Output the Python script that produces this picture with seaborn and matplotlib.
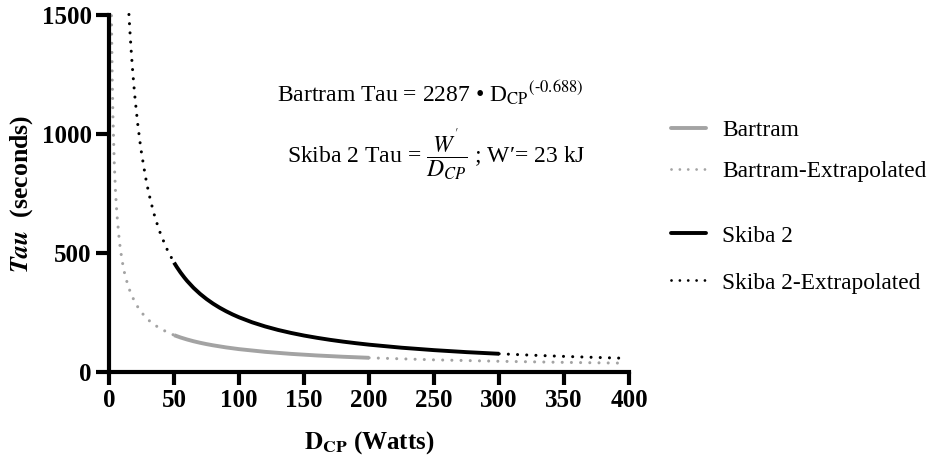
import matplotlib
matplotlib.use("Agg")
import matplotlib.pyplot as plt
import seaborn as sns
import pandas as pd
from matplotlib.lines import Line2D

# ---- data ----
bartram_ext_lo_x = [1.85, 2, 2.5, 3, 4, 5, 6, 8, 10, 12, 15, 20, 25, 30, 35, 40, 45, 50]
bartram_ext_lo_y = [1498, 1420, 1218, 1074, 881, 756, 667, 547, 469, 414, 355, 291, 250, 220, 198, 181, 167, 155]
bartram_x = [50, 55, 60, 65, 70, 75, 80, 90, 100, 120, 140, 160, 180, 200]
bartram_y = [155, 145.2, 136.8, 129.4, 123.0, 117.3, 112.3, 103.5, 96.2, 84.9, 76.3, 69.6, 64.2, 59.8]
bartram_ext_hi_x = [200, 250, 300, 350, 395]
bartram_ext_hi_y = [59.8, 51.2, 45.2, 40.6, 37.4]

skiba_ext_lo_x = [15.3, 16, 17, 18, 19, 20, 22, 24, 25, 28, 30, 32, 35, 38, 40, 45, 50]
skiba_ext_lo_y = [1503, 1437.5, 1352.9, 1277.8, 1210.5, 1150, 1045.5, 958.3, 920, 821.4, 766.7,
                  718.8, 657.1, 605.3, 575, 511.1, 460]
skiba_x = [50, 52, 55, 58, 60, 65, 70, 75, 80, 85, 90, 95, 100, 110, 120, 130, 140, 150,
           160, 170, 180, 190, 200, 225, 250, 275, 300]
skiba_y = [460, 442.3, 418.2, 396.6, 383.3, 353.8, 328.6, 306.7, 287.5, 270.6, 255.6, 242.1,
           230, 209.1, 191.7, 176.9, 164.3, 153.3, 143.8, 135.3, 127.8, 121.1, 115, 102.2,
           92, 83.6, 76.7]
skiba_ext_hi_x = [300, 325, 350, 375, 395]
skiba_ext_hi_y = [76.7, 70.8, 65.7, 61.3, 58.2]

x_ticks = [0, 50, 100, 150, 200, 250, 300, 350, 400]
y_ticks = [0, 500, 1000, 1500]
legend_labels = ["Bartram", "Bartram-Extrapolated", "Skiba 2", "Skiba 2-Extrapolated"]

# ---- style ----
sns.set_style("ticks", {"axes.edgecolor": "black", "xtick.color": "black",
                        "ytick.color": "black", "text.color": "black",
                        "axes.labelcolor": "black"})
plt.rcParams["font.family"] = ["Liberation Serif", "DejaVu Serif"]
plt.rcParams["mathtext.fontset"] = "stix"

GRAY = "#a3a3a3"
DOT = (0, (0.01, 3.0))

fig = plt.figure(figsize=(9.28, 4.61), dpi=100)
ax = fig.add_axes([0.1175, 0.193, 0.678 - 0.1175, 0.967 - 0.193])

def seg(x, y, color, lw, ls):
    df = pd.DataFrame({"x": x, "y": y})
    sns.lineplot(data=df, x="x", y="y", ax=ax, color=color, linewidth=lw,
                 linestyle=ls, dash_capstyle="round", solid_capstyle="butt",
                 solid_joinstyle="round", sort=False, estimator=None, clip_on=False)

seg(bartram_ext_lo_x, bartram_ext_lo_y, GRAY, 2.2, DOT)
seg(bartram_ext_hi_x, bartram_ext_hi_y, GRAY, 2.2, DOT)
seg(bartram_x, bartram_y, GRAY, 2.8, "-")
seg(skiba_ext_lo_x, skiba_ext_lo_y, "black", 2.2, DOT)
seg(skiba_ext_hi_x, skiba_ext_hi_y, "black", 2.2, DOT)
seg(skiba_x, skiba_y, "black", 2.8, "-")

ax.set_xlim(0, 400)
ax.set_ylim(0, 1500)
ax.set_xticks(x_ticks)
ax.set_yticks(y_ticks)
ax.set_xticklabels([str(t) for t in x_ticks], fontweight="bold", fontsize=18)
ax.set_yticklabels([str(t) for t in y_ticks], fontweight="bold", fontsize=18)
sns.despine(ax=ax)
for s in ["left", "bottom"]:
    ax.spines[s].set_linewidth(3)
    ax.spines[s].set_capstyle("projecting")
ax.tick_params(width=3, length=9.5, pad=3, direction="out", colors="black")

ax.set_xlabel(r"$\mathbf{D}_{\mathbf{CP}}$ (Watts)", fontweight="bold", fontsize=18, labelpad=12)
ax.set_ylabel(r"$\mathbfit{Tau}$  (seconds)", fontweight="bold", fontsize=18.5, labelpad=5)

ax.text(0.617, 0.784, r"Bartram Tau = 2287 • D$_{\mathrm{CP}}$$^{(\text{-}0.688)}$",
        transform=ax.transAxes, fontsize=17, ha="center", va="center")
ax.text(0.630, 0.608, r"Skiba 2 Tau = $\dfrac{W^{'}}{D_{CP}}$ ; W′= 23 kJ",
        transform=ax.transAxes, fontsize=17, ha="center", va="center")

h1 = [Line2D([], [], color=GRAY, lw=2.8),
      Line2D([], [], color=GRAY, lw=2.0, linestyle=DOT, dash_capstyle="round")]
h2 = [Line2D([], [], color="black", lw=2.8),
      Line2D([], [], color="black", lw=2.0, linestyle=DOT, dash_capstyle="round")]
leg1 = fig.legend(h1, legend_labels[:2], loc="center left", bbox_to_anchor=(671 / 928, 1 - 151 / 461),
                  frameon=False, fontsize=16.8, handlelength=1.5, handletextpad=0.7,
                  borderpad=0, borderaxespad=0, labelspacing=0.85)
leg2 = fig.legend(h2, legend_labels[2:], loc="center left", bbox_to_anchor=(671 / 928, 1 - 259.5 / 461),
                  frameon=False, fontsize=16.8, handlelength=1.5, handletextpad=0.7,
                  borderpad=0, borderaxespad=0, labelspacing=1.1)

fig.savefig("out.png", dpi=100)
